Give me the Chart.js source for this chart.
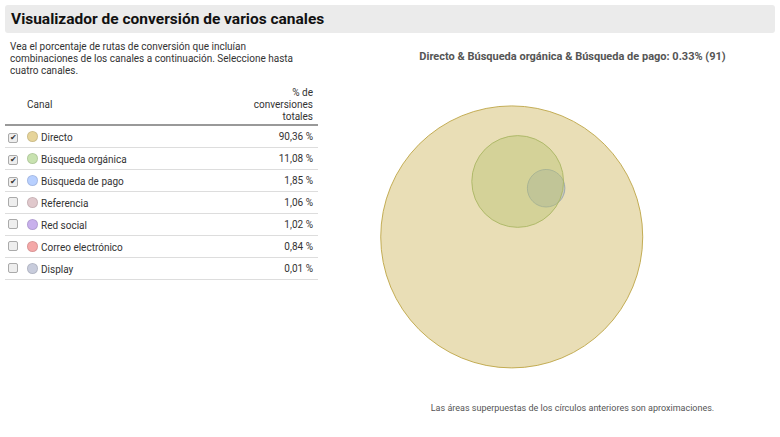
<!DOCTYPE html>
<html><head><meta charset="utf-8">
<script src="https://cdn.jsdelivr.net/npm/chart.js@4"></script>
<style>
body{margin:0;width:780px;height:437px;position:relative;font-family:Roboto,"Noto Sans",sans-serif;color:#222;background:#fff;overflow:hidden}
#wrap{position:absolute;left:0;top:0;width:780px;height:437px}
.hdr{position:absolute;left:5px;top:5px;width:770px;height:28px;background:#ebebeb;border-radius:3px}
.hdr span{position:absolute;left:6px;top:5px;font-size:15.5px;font-weight:bold;color:#111}
.desc{position:absolute;left:10px;top:41px;width:290px;font-size:10px;line-height:12px;color:#333}
table{position:absolute;left:5px;top:85px;width:313px;border-collapse:collapse;font-size:10px;color:#333}
th{font-weight:normal;text-align:left;padding:0;height:39px;border-bottom:2px solid #999;vertical-align:middle}
th.r{text-align:right;line-height:12px;padding-right:5px}
td{height:21px;border-bottom:1px solid #ddd;padding:0}
td.r{text-align:right;padding-right:5px}
.cb{display:inline-block;width:8px;height:8px;border:1px solid #aaa;border-radius:2px;background:#eee;margin-left:3px;font-size:8px;line-height:8px;text-align:center}
.dot{display:inline-block;width:9px;height:9px;border-radius:50%;vertical-align:-1px;margin-right:3px}
.vt{position:absolute;left:340px;width:465px;text-align:center;top:50px;font-size:11px;font-weight:bold;color:#555}
.ft{position:absolute;left:340px;width:465px;text-align:center;top:403px;font-size:9px;color:#555}
</style></head><body>
<div class="hdr"><span>Visualizador de conversión de varios canales</span></div>
<div class="desc">Vea el porcentaje de rutas de conversión que incluían combinaciones de los canales a continuación. Seleccione hasta cuatro canales.</div>
<table id="tb"><thead><tr><th style="width:22px"></th><th>Canal</th><th class="r">% de<br>conversiones<br>totales</th></tr></thead><tbody></tbody></table>
<div class="vt">Directo &amp; Búsqueda orgánica &amp; Búsqueda de pago: 0.33% (91)</div>
<div class="ft">Las áreas superpuestas de los círculos anteriores son aproximaciones.</div>
<div id="wrap"><canvas id="c"></canvas></div>
<script>
const channels=["Directo","Búsqueda orgánica","Búsqueda de pago","Referencia","Red social","Correo electrónico","Display"];
const percents=[90.36,11.08,1.85,1.06,1.02,0.84,0.01];
const selected=[true,true,true,false,false,false,false];
const dotColors=["#e6d49a","#c8e2b0","#b8d0ff","#e0c8cc","#c8b0ec","#f4a8a8","#c8ccdc"];
// Venn layout (circle centres, in chart units)
const vennX=[574,583,626];
const vennY=[265,125,142];
const vennFill=["rgba(212,190,110,0.5)","rgba(160,200,120,0.45)","rgba(110,160,255,0.45)"];
const vennBorder=["rgba(190,165,70,0.9)","rgba(130,175,90,0.9)","rgba(90,140,235,0.9)"];
const scaleK=131/Math.sqrt(percents[0]);

const tb=document.querySelector('#tb tbody');
channels.forEach((c,i)=>{
  const tr=document.createElement('tr');
  tr.innerHTML=`<td><span class="cb">${selected[i]?'✔':''}</span></td><td><span class="dot" style="background:${dotColors[i]};border:1px solid rgba(0,0,0,0.1)"></span>${c}</td><td class="r">${percents[i].toFixed(2).replace('.',',')} %</td>`;
  tb.appendChild(tr);
});
const datasets=[0,1,2].map(i=>({label:channels[i],data:[{x:vennX[i],y:vennY[i],r:scaleK*Math.sqrt(percents[i])}],backgroundColor:vennFill[i],borderColor:vennBorder[i],borderWidth:1,hoverRadius:0,clip:false}));
new Chart(document.getElementById('c'),{type:'bubble',data:{datasets},
options:{responsive:true,maintainAspectRatio:false,animation:false,layout:{padding:0},
plugins:{legend:{display:false},tooltip:{enabled:false}},
scales:{x:{type:'linear',min:0,max:780,display:false,offset:false,grace:0},y:{type:'linear',min:0,max:437,reverse:true,display:false,offset:false,grace:0}}}});
</script></body></html>
